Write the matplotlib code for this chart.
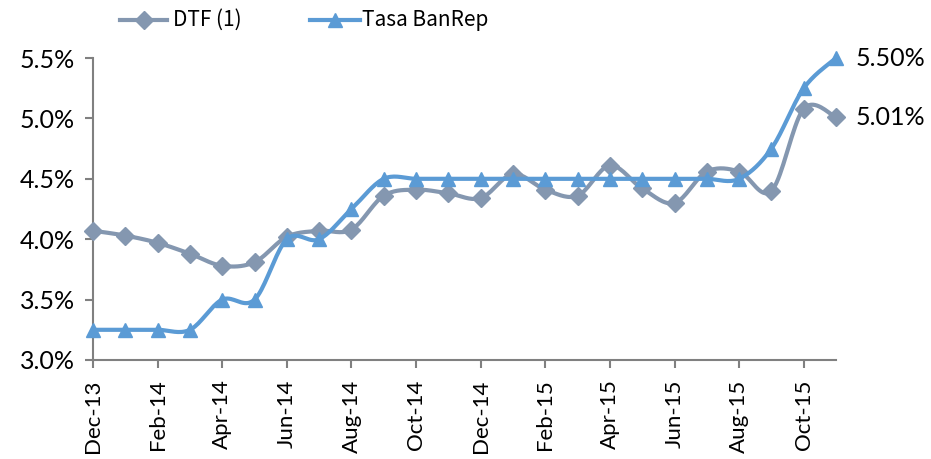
import numpy as np
import matplotlib
matplotlib.use("Agg")
from matplotlib import pyplot as plt
from matplotlib.ticker import FuncFormatter

months = ['Dec-13', 'Jan-14', 'Feb-14', 'Mar-14', 'Apr-14', 'May-14', 'Jun-14', 'Jul-14',
          'Aug-14', 'Sep-14', 'Oct-14', 'Nov-14', 'Dec-14', 'Jan-15', 'Feb-15', 'Mar-15',
          'Apr-15', 'May-15', 'Jun-15', 'Jul-15', 'Aug-15', 'Sep-15', 'Oct-15', 'Nov-15']
dtf = [4.07, 4.03, 3.97, 3.88, 3.78, 3.81, 4.02, 4.07, 4.08, 4.36, 4.41, 4.38,
       4.34, 4.54, 4.41, 4.36, 4.61, 4.42, 4.30, 4.56, 4.56, 4.40, 5.08, 5.01]
banrep = [3.25, 3.25, 3.25, 3.25, 3.50, 3.50, 4.00, 4.00, 4.25, 4.50, 4.50, 4.50,
          4.50, 4.50, 4.50, 4.50, 4.50, 4.50, 4.50, 4.50, 4.50, 4.75, 5.25, 5.50]
end_labels = ['5.50%', '5.01%']

c_dtf = '#8497B0'
c_ban = '#5B9BD5'


def smooth(y, n=20):
    # excel-ish smoothed line: bezier segments, control points from neighbours
    y = np.asarray(y, dtype=float)
    x = np.arange(len(y), dtype=float)
    xs, ys = [], []
    t = np.linspace(0, 1, n)
    for i in range(len(y) - 1):
        y0 = y[i - 1] if i > 0 else y[i]
        x0 = x[i - 1] if i > 0 else x[i]
        y3 = y[i + 2] if i + 2 < len(y) else y[i + 1]
        x3 = x[i + 2] if i + 2 < len(y) else x[i + 1]
        p1 = (x[i], y[i])
        p2 = (x[i + 1], y[i + 1])
        c1 = (x[i] + (x[i + 1] - x0) / 6, y[i] + (y[i + 1] - y0) / 6)
        c2 = (x[i + 1] - (x3 - x[i]) / 6, y[i + 1] - (y3 - y[i]) / 6)
        bx = (1-t)**3*p1[0] + 3*(1-t)**2*t*c1[0] + 3*(1-t)*t**2*c2[0] + t**3*p2[0]
        by = (1-t)**3*p1[1] + 3*(1-t)**2*t*c1[1] + 3*(1-t)*t**2*c2[1] + t**3*p2[1]
        xs.extend(bx)
        ys.extend(by)
    return np.array(xs), np.array(ys)


plt.rcParams['font.family'] = ['Lato', 'DejaVu Sans']
fig = plt.figure(figsize=(9.31, 4.59), dpi=100)
ax = fig.add_axes([0.0999, 0.2157, 0.7981, 0.6579])

x = np.arange(len(months))
sx, sy = smooth(dtf)
ax.plot(sx, sy, color=c_dtf, lw=3, clip_on=False, zorder=3)
ax.plot(x, dtf, ls='none', marker='D', ms=9, color=c_dtf, clip_on=False, zorder=4)
sx, sy = smooth(banrep)
ax.plot(sx, sy, color=c_ban, lw=3, clip_on=False, zorder=5)
ax.plot(x, banrep, ls='none', marker='^', ms=10, color=c_ban, clip_on=False, zorder=6)

ax.set_xlim(0, len(months) - 1)
ax.set_ylim(3.0, 5.5)
ax.set_yticks(np.arange(3.0, 5.51, 0.5))
ax.yaxis.set_major_formatter(FuncFormatter(lambda v, p: '{:.1f}%'.format(v)))
ax.set_xticks(x[::2])
ax.set_xticklabels(months[::2], rotation=90, fontsize=16)
ax.tick_params(axis='y', labelsize=18, length=6, width=1.5, color='#808080', pad=7)
ax.tick_params(axis='x', length=6, width=1.5, color='#808080', pad=8)
for s in ['top', 'right']:
    ax.spines[s].set_visible(False)
for s in ['left', 'bottom']:
    ax.spines[s].set_color('#808080')
    ax.spines[s].set_linewidth(1.5)

ax.annotate(end_labels[0], (x[-1], banrep[-1]), xytext=(14, 0), textcoords='offset points',
            va='center', fontsize=18)
ax.annotate(end_labels[1], (x[-1], dtf[-1]), xytext=(14, 0), textcoords='offset points',
            va='center', fontsize=18)

# legend drawn by hand at top
ly = 1 - 20/459
fig.lines.append(plt.Line2D([120/931, 167/931], [ly, ly], color=c_dtf, lw=3,
                            transform=fig.transFigure))
fig.lines.append(plt.Line2D([143.5/931], [ly], color=c_dtf, marker='D', ms=9,
                            transform=fig.transFigure))
fig.text(173/931, ly, 'DTF (1)', va='center', fontsize=15, family='Noto Sans CJK SC')
fig.lines.append(plt.Line2D([310/931, 360/931], [ly, ly], color=c_ban, lw=3,
                            transform=fig.transFigure))
fig.lines.append(plt.Line2D([335/931], [ly], color=c_ban, marker='^', ms=10,
                            transform=fig.transFigure))
fig.text(362/931, ly, 'Tasa BanRep', va='center', fontsize=15, family='Noto Sans CJK SC')

fig.savefig('out.png', dpi=100)
